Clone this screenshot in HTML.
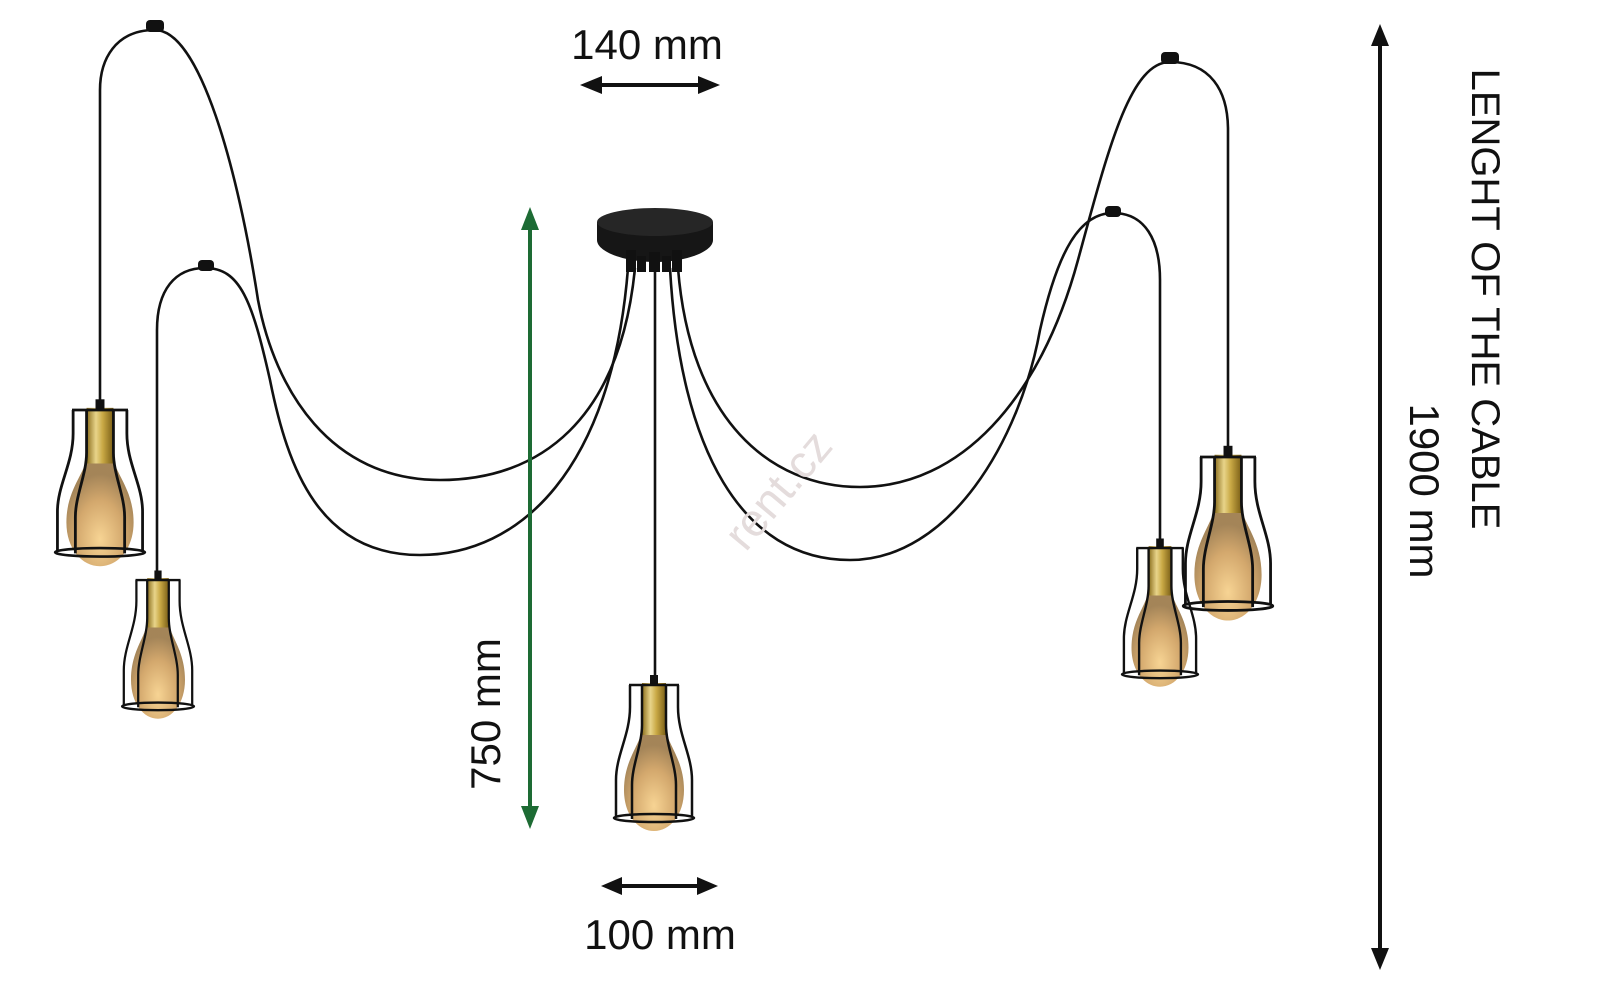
<!DOCTYPE html>
<html><head><meta charset="utf-8"><style>
html,body{margin:0;padding:0;background:#fff;overflow:hidden;width:1600px;height:993px}
svg{display:block}
text{font-family:"Liberation Sans",sans-serif;fill:#111}
</style></head><body>
<svg width="1600" height="993" viewBox="0 0 1600 993" xmlns="http://www.w3.org/2000/svg">
<defs>
<linearGradient id="brass" x1="0" x2="1">
<stop offset="0" stop-color="#8a6d1c"/><stop offset="0.35" stop-color="#e8d48a"/><stop offset="0.6" stop-color="#c9a945"/><stop offset="1" stop-color="#7a5e16"/>
</linearGradient>
<radialGradient id="amber" cx="0.5" cy="0.75" r="0.6">
<stop offset="0" stop-color="#f6d08a"/><stop offset="0.6" stop-color="#cfa060"/><stop offset="1" stop-color="#9c7a4a"/>
</radialGradient>
<g id="lamp">
<path d="M-12,45 C-14,60 -30,75 -30,105 C-30,130 -16,146 0,146 C16,146 30,130 30,105 C30,75 14,60 12,45 Z" fill="url(#amber)" opacity="0.92"/>
<rect x="-12" y="-2" width="24" height="52" fill="url(#brass)"/>
<rect x="-4" y="-10" width="8" height="10" fill="#111"/>
<g fill="none" stroke="#111" stroke-width="2.5">
<path d="M-24,0 L-24,22 C-24,50 -38,70 -38,95 L-38,132"/>
<path d="M24,0 L24,22 C24,50 38,70 38,95 L38,132"/>
<path d="M-12,0 L-12,40 C-12,60 -22,80 -22,100 L-22,134"/>
<path d="M12,0 L12,40 C12,60 22,80 22,100 L22,134"/>
<path d="M-25,0 L25,0"/>
<ellipse cx="0" cy="133" rx="40" ry="4"/>
</g>
</g>
</defs>

<g fill="none" stroke="#111" stroke-width="2.6">
<path d="M635,268 C620,420 540,480 440,480 C330,480 275,390 258,300 C238,170 200,30 155,30 C115,30 100,60 100,90 L100,408"/>
<path d="M628,268 C612,470 520,555 420,555 C320,555 288,470 270,380 C252,300 240,268 205,268 C175,268 157,290 157,330 L157,580"/>
<path d="M655,265 L655,683"/>
<path d="M678,268 C690,420 770,487 860,487 C960,487 1040,400 1078,260 C1108,150 1130,62 1170,62 C1210,62 1228,90 1228,130 L1228,456"/>
<path d="M670,268 C680,450 742,560 850,560 C950,560 1020,440 1040,330 C1058,250 1080,213 1113,213 C1145,213 1160,240 1160,280 L1160,548"/>
</g>
<g fill="#111">
<rect x="146" y="20" width="18" height="12" rx="4"/>
<rect x="198" y="260" width="16" height="11" rx="4"/>
<rect x="1161" y="52" width="18" height="12" rx="4"/>
<rect x="1105" y="206" width="16" height="11" rx="4"/>
</g>
<path d="M597,222 L597,240 C597,252 625,262 655,262 C685,262 713,252 713,240 L713,222 Z" fill="#161616"/>
<ellipse cx="655" cy="222" rx="58" ry="14" fill="#262626"/>
<g fill="#111"><rect x="626" y="250" width="10" height="22"/><rect x="649" y="252" width="11" height="20"/><rect x="672" y="250" width="10" height="22"/><rect x="637" y="256" width="9" height="16"/><rect x="662" y="256" width="9" height="16"/></g>

<use href="#lamp" transform="translate(100,410) scale(1.12,1.07)"/>
<use href="#lamp" transform="translate(158,580) scale(0.9,0.95)"/>
<use href="#lamp" transform="translate(654,685) scale(1.0,1.0)"/>
<use href="#lamp" transform="translate(1160,548) scale(0.95,0.95)"/>
<use href="#lamp" transform="translate(1228,457) scale(1.12,1.12)"/>

<text x="790" y="500" font-size="46" transform="rotate(-50 790 500)" text-anchor="middle" style="fill:#e4dcdc">rent.cz</text>

<g stroke="#111" stroke-width="4" fill="#111">
<line x1="595" y1="85" x2="705" y2="85"/>
<polygon points="580,85 602,76 602,94" stroke="none"/>
<polygon points="720,85 698,76 698,94" stroke="none"/>
<line x1="617" y1="886" x2="703" y2="886"/>
<polygon points="601,886 622,877 622,895" stroke="none"/>
<polygon points="718,886 697,877 697,895" stroke="none"/>
<line x1="1380" y1="40" x2="1380" y2="955"/>
<polygon points="1380,24 1371,46 1389,46" stroke="none"/>
<polygon points="1380,970 1371,948 1389,948" stroke="none"/>
</g>
<g stroke="#1d6b34" stroke-width="4" fill="#1d6b34">
<line x1="530" y1="222" x2="530" y2="815"/>
<polygon points="530,207 521,230 539,230" stroke="none"/>
<polygon points="530,829 521,806 539,806" stroke="none"/>
</g>
<text x="647" y="59" font-size="42" text-anchor="middle">140 mm</text>
<text x="660" y="949" font-size="42" text-anchor="middle">100 mm</text>
<text transform="translate(500,714) rotate(-90)" font-size="42" text-anchor="middle">750 mm</text>
<text transform="translate(1472,299) rotate(90)" font-size="40" text-anchor="middle">LENGHT OF THE CABLE</text>
<text transform="translate(1410,491) rotate(90)" font-size="42" text-anchor="middle">1900 mm</text>
</svg>
</body></html>
